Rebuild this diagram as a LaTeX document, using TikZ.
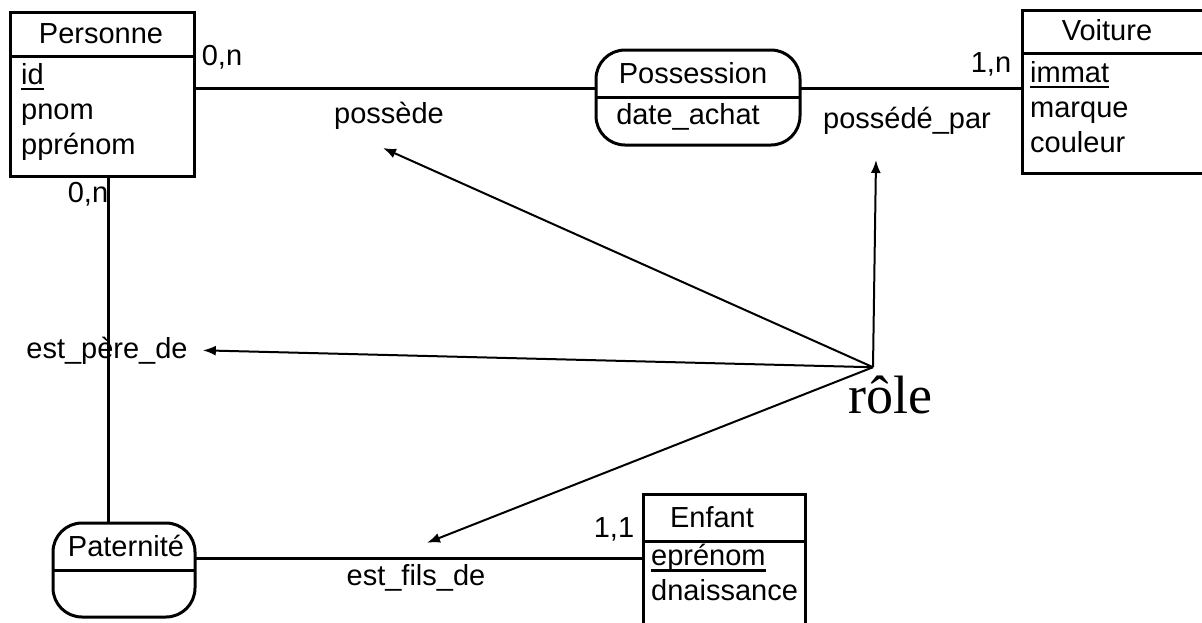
\documentclass[tikz,border=0pt]{standalone}
\usepackage{fontspec}
\setmainfont{Liberation Sans}
\newfontfamily\rolefont{Liberation Serif}
\usetikzlibrary{positioning, arrows.meta}

\newcommand{\attcle}[1]{\setbox0\hbox{#1}\rlap{\rule[-6pt]{\wd0}{2.5pt}}\box0}

\tikzset{
    boite/.style={draw=black, line width=3pt, outer sep=0pt, inner sep=0pt},
    assoc/.style={boite, rounded corners=29pt},
    texte/.style={inner sep=0pt, font=\fontsize{29}{35}\selectfont},
    attributs/.style={texte, align=left, anchor=north west},
    lien/.style={line width=3pt},
    fleche/.style={line width=2pt, -{Latex[length=13pt, width=10pt]}},
}

\begin{document}
\begin{tikzpicture}[x=1pt, y=-1pt]
    \useasboundingbox (0,0) rectangle (1202,622);

    % entites
    \node[boite, minimum width=184pt, minimum height=44pt] (personne-tete) at (102,34) {};
    \node[boite, minimum width=184pt, minimum height=120pt, below=0pt of personne-tete] (personne-corps) {};
    \node[texte, anchor=base] (personne-titre) at (101,43) {Personne};
    \node[attributs] (personne-att) at (21,63) {\attcle{id}\\pnom\\pprénom};

    \node[boite, minimum width=184pt, minimum height=43pt] (voiture-tete) at (1114,31.5) {};
    \node[boite, minimum width=184pt, minimum height=120pt, below=0pt of voiture-tete] (voiture-corps) {};
    \node[texte, anchor=base] (voiture-titre) at (1107,40) {Voiture};
    \node[attributs] (voiture-att) at (1030,61) {\attcle{immat}\\marque\\couleur};

    \node[boite, minimum width=162pt, minimum height=47pt] (enfant-tete) at (724,517.5) {};
    \node[boite, minimum width=162pt, minimum height=100pt, below=0pt of enfant-tete] (enfant-corps) {};
    \node[texte, anchor=base] (enfant-titre) at (712,527) {Enfant};
    \node[attributs] (enfant-att) at (651,544) {\attcle{eprénom}\\dnaissance};

    % associations
    \node[assoc, minimum width=204pt, minimum height=95pt] (possession) at (698,97.5) {};
    \draw[boite] (possession.west) -- (possession.east);
    \node[texte, anchor=base] (possession-titre) at (693,83) {Possession};
    \node[texte, anchor=base] (possession-att) at (688,124) {date\_achat};

    \node[assoc, minimum width=142pt, minimum height=94pt] (paternite) at (124,570) {};
    \draw[boite] (paternite.west) -- (paternite.east);
    \node[texte, anchor=base] (paternite-titre) at (126,556) {Paternité};

    % liens
    \coordinate (possession-g) at ([yshift=9.5pt]possession.west);
    \coordinate (possession-d) at ([yshift=9.5pt]possession.east);
    \coordinate (paternite-d) at ([yshift=12pt]paternite.east);
    \draw[lien] (possession-g) -- (possession-g -| personne-corps.east);
    \draw[lien] (possession-d) -- (possession-d -| voiture-corps.west);
    \draw[lien] ([xshift=6pt]personne-corps.south) -- ([xshift=6pt]personne-corps.south |- paternite.north);
    \draw[lien] (paternite-d) -- (paternite-d -| enfant-corps.west);

    % cardinalites
    \node[texte, anchor=base] (card-pers-poss) at (222,65) {0,n};
    \node[texte, anchor=base] (card-pers-pat) at (88,202) {0,n};
    \node[texte, anchor=base] (card-voit) at (991,72) {1,n};
    \node[texte, anchor=base] (card-enf) at (614,537) {1,1};

    % roles
    \node[texte, anchor=base] (possede) at (389,123) {possède};
    \node[texte, anchor=base] (possede-par) at (907,128) {possédé\_par};
    \node[texte, anchor=base] (pere-de) at (107,358) {est\_père\_de};
    \node[texte, anchor=base] (fils-de) at (416,585) {est\_fils\_de};
    \node[anchor=base, inner sep=0pt, font=\rolefont\fontsize{54}{60}\selectfont] (role) at (890,413) {rôle};
    \coordinate[above left=8pt and 17pt of role.north] (role-origine);

    \draw[fleche] (role-origine) -- ([xshift=-6pt, yshift=-25pt]possede.base);
    \draw[fleche] (role-origine) -- ([xshift=-31pt, yshift=-32pt]possede-par.base);
    \draw[fleche] (role-origine) -- ([xshift=15pt]pere-de.east);
    \draw[fleche] (role-origine) -- ([xshift=11pt, yshift=21pt]fils-de.north);
\end{tikzpicture}
\end{document}
